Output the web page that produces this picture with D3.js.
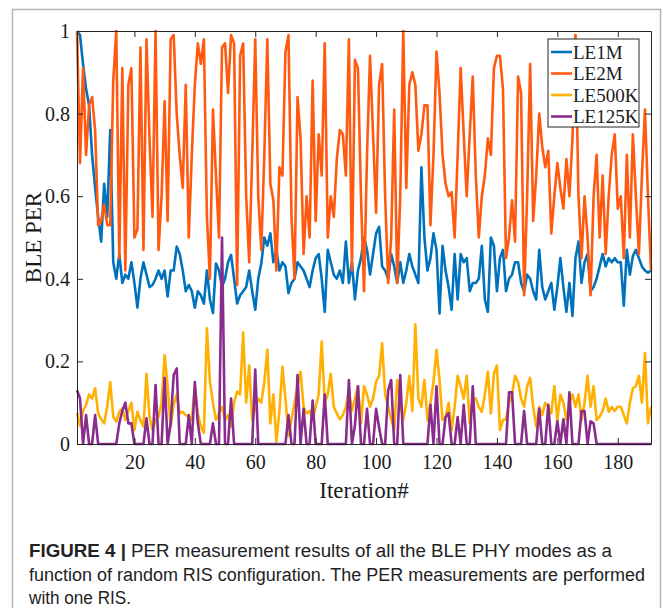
<!DOCTYPE html>
<html>
<head>
<meta charset="utf-8">
<script src="https://cdn.jsdelivr.net/npm/d3@7"></script>
<style>
  body { margin: 0; background: #fff; }
  svg { display: block; }
</style>
</head>
<body>
<svg id="svg1"></svg>
<script>
// iterations 1..191
var iterations = d3.range(1, 192);

var le1m = [1.0,0.99,0.92,0.86,0.82,0.70,0.62,0.55,0.49,0.63,
            0.55,0.76,0.44,0.40,0.46,0.39,0.41,0.40,0.44,0.39,
            0.33,0.40,0.44,0.41,0.38,0.385,0.40,0.42,0.40,0.42,
            0.357,0.42,0.42,0.478,0.46,0.42,0.37,0.385,0.37,0.33,
            0.37,0.36,0.34,0.42,0.35,0.317,0.437,0.42,0.38,0.40,
            0.44,0.458,0.40,0.34,0.36,0.37,0.38,0.42,0.37,0.325,
            0.40,0.437,0.50,0.48,0.51,0.44,0.47,0.42,0.44,0.43,
            0.365,0.39,0.40,0.44,0.43,0.42,0.40,0.38,0.42,0.45,
            0.46,0.40,0.32,0.47,0.44,0.41,0.40,0.42,0.39,0.49,
            0.39,0.44,0.35,0.42,0.45,0.50,0.47,0.41,0.46,0.51,
            0.526,0.43,0.42,0.40,0.46,0.43,0.39,0.44,0.39,0.42,
            0.46,0.43,0.41,0.39,0.67,0.50,0.42,0.45,0.51,0.47,
            0.316,0.48,0.42,0.38,0.325,0.46,0.35,0.46,0.44,0.45,
            0.37,0.39,0.39,0.40,0.48,0.35,0.32,0.50,0.48,0.37,
            0.45,0.47,0.37,0.40,0.41,0.44,0.44,0.39,0.37,0.41,
            0.40,0.37,0.35,0.47,0.38,0.35,0.37,0.39,0.325,0.38,
            0.45,0.38,0.32,0.39,0.31,0.45,0.49,0.39,0.44,0.46,
            0.37,0.38,0.40,0.43,0.46,0.43,0.45,0.44,0.45,0.44,
            0.44,0.335,0.47,0.41,0.455,0.47,0.45,0.43,0.42,0.415,
            0.42];

var le2m = [1.0,0.68,0.91,0.70,0.82,0.84,0.76,0.53,0.54,0.58,
            0.53,0.53,0.88,1.0,0.45,0.91,0.42,0.87,0.91,0.50,
            0.52,0.96,0.47,0.98,0.74,0.55,1.0,0.47,0.60,0.83,
            0.54,0.98,0.99,0.80,0.70,0.62,0.87,0.50,0.70,0.87,
            0.97,0.92,0.98,0.55,0.40,0.81,0.65,0.50,0.96,0.97,
            0.85,0.99,0.97,0.385,0.94,0.97,0.60,0.44,0.70,0.98,
            0.60,0.47,0.70,0.98,0.63,0.59,0.42,0.67,0.65,0.95,
            0.99,0.55,0.40,0.84,0.74,0.46,0.60,0.50,0.88,0.54,
            0.75,0.65,0.97,0.50,0.60,0.55,0.69,0.76,0.75,0.65,
            0.98,0.42,0.93,0.91,0.60,0.37,0.70,0.94,0.75,0.56,
            0.87,0.92,0.60,0.39,0.50,0.81,0.39,0.60,1.0,0.62,
            0.87,0.90,0.87,0.71,0.75,0.82,0.82,0.53,0.70,0.95,
            0.85,0.70,0.63,0.60,0.61,0.50,0.70,0.91,0.75,0.60,
            0.75,0.89,0.65,0.50,0.60,0.65,0.74,0.70,0.91,0.94,
            0.94,0.86,0.45,0.50,0.59,0.49,0.89,0.85,0.36,0.60,
            0.92,0.54,0.65,0.80,0.72,0.67,0.71,0.51,0.60,0.68,
            0.62,0.57,0.69,0.60,0.74,0.99,0.60,0.45,0.60,0.50,
            0.36,0.60,0.70,0.50,0.65,0.46,0.60,0.70,0.75,0.57,
            0.60,0.45,0.70,0.50,0.75,0.60,0.46,0.65,0.81,0.60,
            0.42];

var le500k = [0.075,0.044,0.08,0.095,0.12,0.11,0.135,0.074,0.06,0.05,
              0.09,0.15,0.066,0.054,0.078,0.086,0.058,0.08,0.10,0.034,
              0.078,0.058,0.042,0.17,0.066,0.034,0.058,0.066,0.10,0.215,
              0.14,0.042,0.095,0.12,0.074,0.078,0.07,0.066,0.058,0.14,
              0.074,0.042,0.027,0.28,0.15,0.10,0.058,0.074,0.09,0.058,
              0.07,0.042,0.10,0.127,0.12,0.27,0.10,0.19,0.058,0.09,
              0.11,0.10,0.15,0.228,0.05,0.12,0.006,0.08,0.187,0.11,
              0.02,0.06,0.10,0.14,0.175,0.09,0.074,0.08,0.058,0.09,
              0.12,0.248,0.10,0.12,0.17,0.09,0.074,0.06,0.07,0.09,
              0.13,0.08,0.11,0.14,0.05,0.14,0.12,0.09,0.11,0.15,
              0.165,0.244,0.12,0.09,0.06,0.034,0.155,0.10,0.058,0.10,
              0.165,0.08,0.29,0.11,0.09,0.155,0.058,0.10,0.15,0.228,
              0.155,0.058,0.066,0.10,0.034,0.09,0.165,0.14,0.11,0.165,
              0.05,0.11,0.11,0.09,0.078,0.12,0.175,0.074,0.17,0.19,
              0.034,0.058,0.06,0.10,0.12,0.165,0.15,0.11,0.09,0.14,
              0.16,0.09,0.042,0.09,0.07,0.10,0.09,0.074,0.14,0.058,
              0.12,0.10,0.058,0.10,0.12,0.09,0.12,0.058,0.10,0.165,
              0.09,0.14,0.058,0.066,0.08,0.11,0.078,0.09,0.08,0.09,
              0.09,0.07,0.05,0.10,0.135,0.14,0.165,0.10,0.22,0.05,
              0.09];

var le125k = [0.13,0.11,0,0.07,0,0,0.07,0,0,0,
              0,0,0,0,0.05,0.08,0.10,0.05,0.05,0,
              0,0,0,0.062,0,0,0.143,0,0,0.16,
              0,0.05,0.167,0.183,0,0,0,0.07,0,0.15,
              0.05,0,0,0,0,0.05,0,0,0.50,0,
              0,0.11,0,0,0,0,0,0,0,0.18,
              0,0,0,0,0,0,0,0,0,0,
              0.07,0,0,0.167,0,0.085,0,0,0.105,0,
              0,0,0.12,0,0,0,0,0,0,0,
              0.155,0,0.045,0.14,0,0,0.085,0,0,0.085,
              0.04,0,0,0.13,0.155,0,0,0.167,0,0,
              0,0,0,0,0,0,0,0.095,0,0.14,
              0,0,0.065,0.075,0,0,0.065,0,0.095,0,
              0,0.14,0,0,0,0,0,0,0,0,
              0,0,0,0.125,0.125,0,0,0,0.08,0,
              0,0,0,0.085,0,0,0.095,0,0,0.055,
              0,0.06,0,0.125,0,0,0,0.08,0.08,0,
              0.055,0.05,0,0,0,0,0,0,0,0,
              0,0,0,0,0,0,0,0,0,0,
              0];

var seriesNames = ['LE1M', 'LE2M', 'LE500K', 'LE125K'];
var seriesColors = ['#0072BD', '#FF5A10', '#FFB000', '#8A2B8E'];
var seriesValues = [le1m, le2m, le500k, le125k];

var xTicks = [20, 40, 60, 80, 100, 120, 140, 160, 180];
var yTicks = [0, 0.2, 0.4, 0.6, 0.8, 1];

var captionLines = [
    ['FIGURE 4 | ', 'PER measurement results of all the BLE PHY modes as a'],
    ['', 'function of random RIS configuration. The PER measurements are performed'],
    ['', 'with one RIS.']
];
// rendered widths of the caption lines in the figure
var captionWidths = [583, 616, 102];

function drawChart(){
    var W = 663, H = 608;
    var svg = d3.select('#svg1').attr('width', W).attr('height', H);

    // outer frame of the figure panel
    svg.append('rect')
        .attr('x', 12.5).attr('y', 9.5)
        .attr('width', 648).attr('height', 700)
        .attr('fill', 'none')
        .attr('stroke', '#b4b4b4')
        .attr('stroke-width', 1.5);

    var left = 77, right = 651, top = 31, bottom = 444;

    var xScale = d3.scaleLinear().domain([1, 191]).range([left, right]);
    var yScale = d3.scaleLinear().domain([0, 1]).range([bottom, top]);

    var serif = '"Liberation Serif", "Times New Roman", serif';

    // data lines, drawn in legend order
    var line = d3.line()
        .x(function(d, i){ return xScale(iterations[i]); })
        .y(function(d){ return yScale(d); });

    var plot = svg.append('g');
    seriesValues.forEach(function(vals, k){
        plot.append('path')
            .datum(vals)
            .attr('d', line)
            .attr('fill', 'none')
            .attr('stroke', seriesColors[k])
            .attr('stroke-width', 2.6)
            .attr('stroke-linejoin', 'round');
    });

    // box axes, ticks pointing inward
    var axisColor = '#262626';
    var xAxis = d3.axisBottom(xScale).tickValues(xTicks).tickSize(-6).tickSizeOuter(0).tickPadding(11);
    var yAxis = d3.axisLeft(yScale).tickValues(yTicks).tickSize(-6).tickSizeOuter(0).tickPadding(7)
        .tickFormat(function(d){ return d === 0 || d === 1 ? d : d3.format('.1f')(d); });
    var xTop = d3.axisTop(xScale).tickValues(xTicks).tickSize(-6).tickSizeOuter(0).tickFormat('');
    var yRight = d3.axisRight(yScale).tickValues(yTicks).tickSize(-6).tickSizeOuter(0).tickFormat('');

    var gx = svg.append('g').attr('transform', 'translate(0,' + bottom + ')').call(xAxis);
    var gy = svg.append('g').attr('transform', 'translate(' + left + ',0)').call(yAxis);
    var gxt = svg.append('g').attr('transform', 'translate(0,' + top + ')').call(xTop);
    var gyr = svg.append('g').attr('transform', 'translate(' + right + ',0)').call(yRight);

    [gx, gy, gxt, gyr].forEach(function(g){
        g.selectAll('path, line').attr('stroke', axisColor).attr('stroke-width', 1);
        g.selectAll('text')
            .attr('fill', '#1a1a1a')
            .style('font-family', serif)
            .style('font-size', '20px');
    });

    // axis titles
    svg.append('text')
        .attr('x', (left + right) / 2)
        .attr('y', 498)
        .attr('text-anchor', 'middle')
        .attr('fill', '#1a1a1a')
        .style('font-family', serif)
        .style('font-size', '23px')
        .text('Iteration#');

    svg.append('text')
        .attr('transform', 'translate(41,' + ((top + bottom) / 2) + ') rotate(-90)')
        .attr('text-anchor', 'middle')
        .attr('fill', '#1a1a1a')
        .style('font-family', serif)
        .style('font-size', '23px')
        .text('BLE PER');

    // legend
    var lg = svg.append('g').attr('transform', 'translate(548,39)');
    lg.append('rect')
        .attr('width', 91).attr('height', 88)
        .attr('fill', '#fff')
        .attr('stroke', axisColor)
        .attr('stroke-width', 1);
    seriesNames.forEach(function(name, k){
        var cy = 13 + k * 21.5;
        lg.append('line')
            .attr('x1', 3).attr('x2', 24)
            .attr('y1', cy).attr('y2', cy)
            .attr('stroke', seriesColors[k])
            .attr('stroke-width', 2.6);
        lg.append('text')
            .attr('x', 25).attr('y', cy + 6.5)
            .attr('fill', '#1a1a1a')
            .style('font-family', serif)
            .style('font-size', '19px')
            .text(name);
    });

    // caption
    var cap = svg.append('g');
    captionLines.forEach(function(parts, k){
        var t = cap.append('text')
            .attr('x', 29)
            .attr('y', 557 + k * 23.5)
            .attr('textLength', captionWidths[k])
            .attr('lengthAdjust', 'spacingAndGlyphs')
            .attr('fill', '#222')
            .style('font-family', '"Liberation Sans", Arial, sans-serif')
            .style('font-size', '18px');
        if (parts[0]) {
            t.append('tspan').style('font-weight', 'bold').text(parts[0]);
        }
        t.append('tspan').text(parts[1]);
    });
}

drawChart();
</script>
</body>
</html>
